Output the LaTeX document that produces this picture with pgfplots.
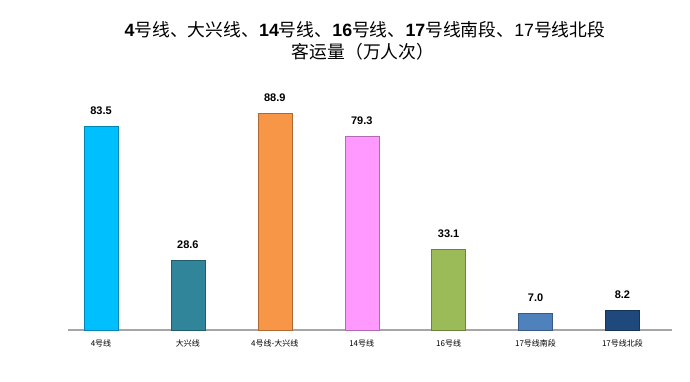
\documentclass[border=0pt]{standalone}
\usepackage{pgfplots}
\pgfplotsset{compat=1.18}
\usepackage{fontspec}
\setmainfont{Noto Sans CJK SC}
\newfontfamily\lat{Liberation Sans}
\definecolor{c1}{RGB}{0,191,255}
\definecolor{c2}{RGB}{49,133,155}
\definecolor{c3}{RGB}{247,150,70}
\definecolor{c4}{RGB}{255,153,255}
\definecolor{c5}{RGB}{155,187,89}
\definecolor{c6}{RGB}{79,129,189}
\definecolor{c7}{RGB}{31,73,125}
\begin{document}
\begin{tikzpicture}
\path (0,0) rectangle (690pt,382pt);
\node[font=\fontsize{17.8}{20}\selectfont] at (365pt,352pt) {{\lat\bfseries 4}号线、大兴线、{\lat\bfseries 14}号线、{\lat\bfseries 16}号线、{\lat\bfseries 17}号线南段、{\lat 17}号线北段};
\node[font=\fontsize{17.8}{20}\selectfont] at (363pt,330pt) {客运量（万人次）};
\begin{axis}[
  at={(101pt,52pt)}, anchor=origin,
  scale only axis, width=604pt, height=244pt,
  xmin=-0.38, xmax=6.57, ymin=0, ymax=100,
  ybar, bar width=34pt,
  axis x line=bottom, axis y line=none,
  x axis line style={draw=gray!70, line width=1.5pt, -},
  xtick={0,...,6}, major tick length=0pt,
  xticklabels={4号线,大兴线,4号线-大兴线,14号线,16号线,17号线南段,17号线北段},
  xticklabel style={font=\fontsize{8}{10}\selectfont, yshift=-6pt},
  nodes near coords,
  nodes near coords style={font=\lat\bfseries\fontsize{11}{13}\selectfont, yshift=8pt, text=black, /pgf/number format/fixed, /pgf/number format/fixed zerofill, /pgf/number format/precision=1, /pgf/number format/assume math mode=true},
  clip=false,
]
\addplot[bar shift=0pt, fill=c1, draw=c1!70!black] coordinates {(0,83.5)};
\addplot[bar shift=0pt, fill=c2, draw=c2!70!black] coordinates {(1,28.6)};
\addplot[bar shift=0pt, fill=c3, draw=c3!70!black] coordinates {(2,88.9)};
\addplot[bar shift=0pt, fill=c4, draw=c4!70!black] coordinates {(3,79.3)};
\addplot[bar shift=0pt, fill=c5, draw=c5!70!black] coordinates {(4,33.1)};
\addplot[bar shift=0pt, fill=c6, draw=c6!70!black] coordinates {(5,7.0)};
\addplot[bar shift=0pt, fill=c7, draw=c7!70!black] coordinates {(6,8.2)};
\end{axis}
\end{tikzpicture}
\end{document}
